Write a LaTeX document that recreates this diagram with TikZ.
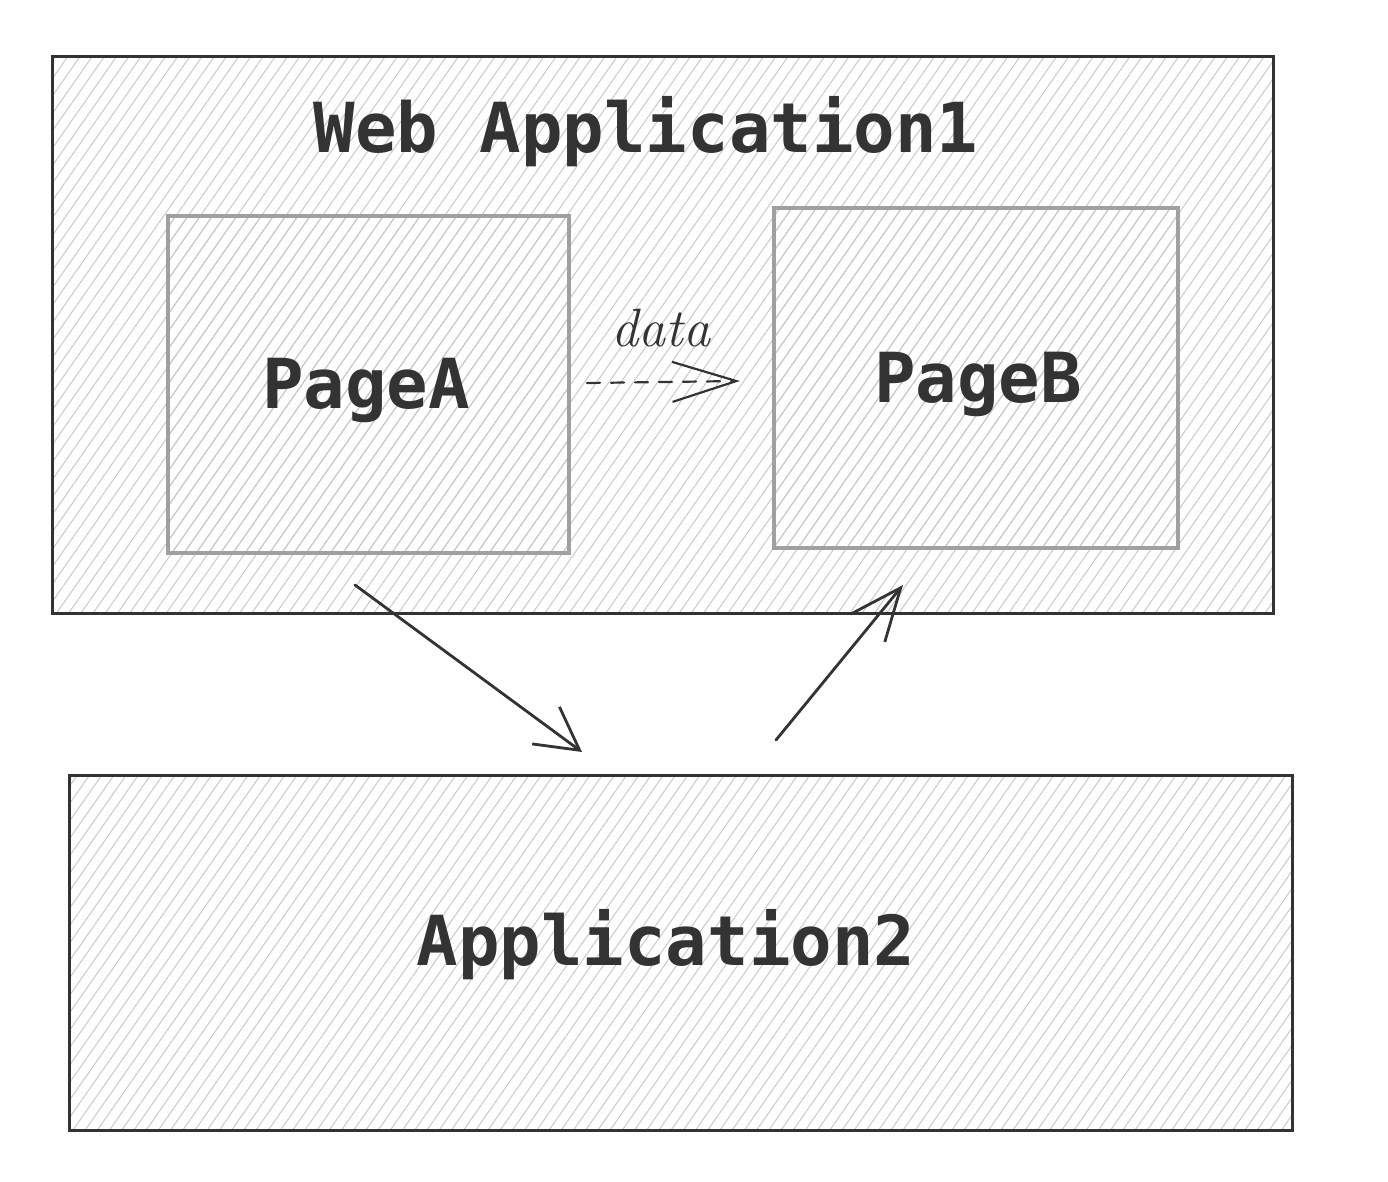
\documentclass[tikz,border=0pt]{standalone}
\usepackage{fontspec}
\setmonofont{DejaVu Sans Mono}
\usetikzlibrary{patterns.meta,arrows.meta}
\definecolor{ink}{HTML}{333333}
\definecolor{pagegray}{HTML}{A0A0A0}
\definecolor{hatch}{HTML}{C9C9C9}
\begin{document}
\begin{tikzpicture}[x=1pt,y=-1pt,
  hatchbox/.style={pattern={Lines[angle=55,distance=10pt,line width=1pt]}, pattern color=hatch, inner sep=0pt},
  outerbox/.style={hatchbox, draw=ink, line width=3pt},
  pagebox/.style={hatchbox, draw=pagegray, line width=4.5pt},
  bigtext/.style={font=\ttfamily\bfseries\fontsize{69}{80}\selectfont, text=ink, anchor=base, inner sep=0pt},
  labeltext/.style={font=\itshape\fontsize{54}{58}\selectfont, text=ink, anchor=base, inner sep=0pt},
  conn/.style={draw=ink, line width=2.8pt, line cap=round},
]
\useasboundingbox (0,0) rectangle (1388,1182);
\fill[white] (0,0) rectangle (1388,1182);

\node[outerbox, minimum width=1221pt, minimum height=556pt] (webapp) at (662.5,335) {};
\node[pagebox, minimum width=401pt, minimum height=337pt] (pagea) at (368.5,384.5) {};
\node[pagebox, minimum width=404pt, minimum height=340pt] (pageb) at (976,378) {};
\node[outerbox, minimum width=1223pt, minimum height=355pt] (app2) at (680.5,952.5) {};

\node[bigtext] (webtitle) at (646,153) {Web Application1};
\node[bigtext] (pageatext) at (366,408) {PageA};
\node[bigtext] (pagebtext) at (978,402) {PageB};
\node[bigtext] (app2text) at (666,965) {Application2};
\node[labeltext] (datalabel) at (661,346) {data};

\coordinate (d1) at (587,383);
\coordinate (d2) at (740,381);
\draw[conn, line width=2.2pt, dash pattern=on 13pt off 11pt, -{Straight Barb[length=64pt,width=40pt,line width=2.2pt]}] (d1) -- (d2);

\coordinate (a1) at (355,585);
\coordinate (a2) at (582,752);
\draw[conn, -{Straight Barb[length=42pt,width=46pt,line width=2.8pt]}] (a1) -- (a2);

\coordinate (b1) at (776,740);
\coordinate (b2) at (903,585);
\draw[conn, -{Straight Barb[length=52pt,width=44pt,line width=2.8pt]}] (b1) -- (b2);
\end{tikzpicture}
\end{document}
